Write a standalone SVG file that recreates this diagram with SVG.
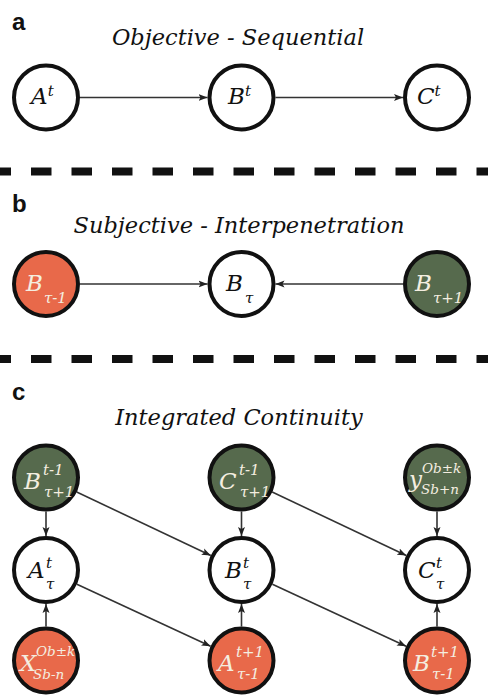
<svg xmlns="http://www.w3.org/2000/svg" width="488" height="700" viewBox="0 0 488 700">
<style>
.bg{fill:#ffffff}
.node{stroke:#111111;stroke-width:4}
.w{fill:#ffffff}
.o{fill:#E8694A}
.g{fill:#566A4D}
.lt{font-family:"DejaVu Serif",serif;font-style:italic;fill:#111111}
.lc{font-family:"DejaVu Serif",serif;font-style:italic;fill:#F4EEE0}
.big{font-size:23px}
.sm{font-size:15px}
.xs{font-size:13.5px}
.title{font-family:"DejaVu Serif",serif;font-style:italic;font-size:22.5px;fill:#111111;text-anchor:middle}
.panel{font-family:"Liberation Sans",Arial,sans-serif;font-weight:bold;font-size:24px;fill:#111111}
.dash{stroke:#111111;stroke-width:8;stroke-dasharray:20.5 20}
.edge{stroke:#333333;stroke-width:1.6;fill:none;marker-end:url(#ah)}
</style>
<defs>
<marker id="ah" markerUnits="userSpaceOnUse" markerWidth="10" markerHeight="8" refX="9" refY="4" orient="auto">
<path d="M0,0.5 L9,4 L0,7.5 L2,4 z" fill="#222222"/>
</marker>
</defs>
<rect class="bg" x="0" y="0" width="488" height="700"/>

<text class="panel" x="12" y="30">a</text>
<text class="title" x="238" y="45">Objective - Sequential</text>
<line class="dash" x1="-9.5" y1="171.5" x2="488" y2="171.5"/>
<text class="panel" x="12" y="212">b</text>
<text class="title" x="239" y="233">Subjective - Interpenetration</text>
<line class="dash" x1="-9.5" y1="359" x2="488" y2="359"/>
<text class="panel" x="12" y="400">c</text>
<text class="title" x="239" y="425">Integrated Continuity</text>

<g id="connectors">
<line class="edge" x1="80" y1="97.5" x2="207.5" y2="97.5"/>
<line class="edge" x1="275.5" y1="97.5" x2="403" y2="97.5"/>
<line class="edge" x1="80" y1="284" x2="207.5" y2="284"/>
<line class="edge" x1="403" y1="284" x2="275.5" y2="284"/>
<line class="edge" x1="46" y1="511.5" x2="46" y2="536"/>
<line class="edge" x1="241.5" y1="511.5" x2="241.5" y2="536"/>
<line class="edge" x1="437" y1="511.5" x2="437" y2="536"/>
<line class="edge" x1="46" y1="626.5" x2="46" y2="604"/>
<line class="edge" x1="241.5" y1="626.5" x2="241.5" y2="604"/>
<line class="edge" x1="437" y1="626.5" x2="437" y2="604"/>
<line class="edge" x1="76.7" y1="492" x2="210.8" y2="555.5"/>
<line class="edge" x1="272.2" y1="492" x2="406.3" y2="555.5"/>
<line class="edge" x1="76.9" y1="584.3" x2="210.6" y2="646.2"/>
<line class="edge" x1="272.4" y1="584.3" x2="406.1" y2="646.2"/>
</g>

<g id="a-A">
<circle class="node w" cx="46" cy="97.5" r="32"/>
<text class="lt big" x="31" y="104">A<tspan class="sm" dy="-8">t</tspan></text>
</g>
<g id="a-B">
<circle class="node w" cx="241.5" cy="97.5" r="32"/>
<text class="lt big" x="228" y="104">B<tspan class="sm" dy="-8">t</tspan></text>
</g>
<g id="a-C">
<circle class="node w" cx="437" cy="97.5" r="32"/>
<text class="lt big" x="417" y="104">C<tspan class="sm" dy="-8">t</tspan></text>
</g>

<g id="b-Bm1">
<circle class="node o" cx="46" cy="284" r="32"/>
<text class="lc big" x="26" y="291">B<tspan class="sm" x="44" y="303">τ-1</tspan></text>
</g>
<g id="b-B">
<circle class="node w" cx="241.5" cy="284" r="32"/>
<text class="lt big" x="226" y="291">B<tspan class="sm" x="245" y="303">τ</tspan></text>
</g>
<g id="b-Bp1">
<circle class="node g" cx="437" cy="284" r="32"/>
<text class="lc big" x="415" y="291">B<tspan class="sm" x="433" y="303">τ+1</tspan></text>
</g>

<g id="c-B-top">
<circle class="node g" cx="46" cy="477.5" r="32"/>
<text class="lc big" x="24" y="489">B<tspan class="sm" x="43" y="475">t-1</tspan><tspan class="sm" x="44" y="497">τ+1</tspan></text>
</g>
<g id="c-C-top">
<circle class="node g" cx="241.5" cy="477.5" r="32"/>
<text class="lc big" x="219" y="489">C<tspan class="sm" x="239" y="475">t-1</tspan><tspan class="sm" x="240" y="497">τ+1</tspan></text>
</g>
<g id="c-y-top">
<circle class="node g" cx="437" cy="477.5" r="32"/>
<text class="lc big" x="409" y="487">y<tspan class="xs" x="422" y="473">Ob±k</tspan><tspan class="xs" x="421" y="494">Sb+n</tspan></text>
</g>

<g id="c-A-mid">
<circle class="node w" cx="46" cy="570" r="32"/>
<text class="lt big" x="28" y="578">A<tspan class="sm" x="46" y="568">t</tspan><tspan class="sm" x="46" y="589">τ</tspan></text>
</g>
<g id="c-B-mid">
<circle class="node w" cx="241.5" cy="570" r="32"/>
<text class="lt big" x="225" y="578">B<tspan class="sm" x="243" y="568">t</tspan><tspan class="sm" x="243" y="589">τ</tspan></text>
</g>
<g id="c-C-mid">
<circle class="node w" cx="437" cy="570" r="32"/>
<text class="lt big" x="418" y="578">C<tspan class="sm" x="436" y="568">t</tspan><tspan class="sm" x="436" y="589">τ</tspan></text>
</g>

<g id="c-X-bot">
<circle class="node o" cx="46" cy="660.5" r="32"/>
<text class="lc big" x="20" y="671">X<tspan class="xs" x="36" y="656">Ob±k</tspan><tspan class="xs" x="33" y="679">Sb-n</tspan></text>
</g>
<g id="c-A-bot">
<circle class="node o" cx="241.5" cy="660.5" r="32"/>
<text class="lc big" x="218" y="671">A<tspan class="sm" x="236" y="657">t+1</tspan><tspan class="sm" x="237" y="679">τ-1</tspan></text>
</g>
<g id="c-B-bot">
<circle class="node o" cx="437" cy="660.5" r="32"/>
<text class="lc big" x="413" y="671">B<tspan class="sm" x="431" y="657">t+1</tspan><tspan class="sm" x="432" y="679">τ-1</tspan></text>
</g>
</svg>
